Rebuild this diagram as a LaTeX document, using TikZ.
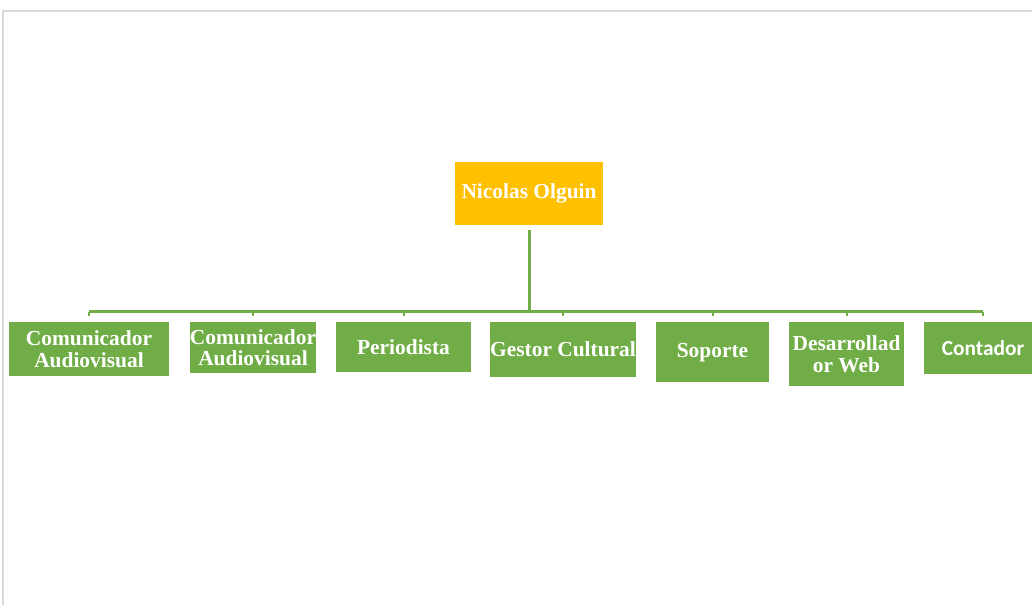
\documentclass[tikz,border=0pt]{standalone}
\usepackage{fontspec}
\setmainfont{Liberation Serif}
\newfontfamily\calibrifont{Carlito}
\usetikzlibrary{positioning}
\definecolor{boxgreen}{HTML}{70AD47}
\definecolor{boxorange}{HTML}{FFC000}
\definecolor{pageedge}{HTML}{D9D9D9}

\begin{document}
\begin{tikzpicture}[x=1pt,y=-1pt,
  role/.style={fill=boxgreen, text=white, inner sep=0pt, align=center,
    anchor=north, font=\fontsize{21.4}{22}\selectfont\bfseries},
  head/.style={role, fill=boxorange},
  link/.style={draw=boxgreen, line width=2pt}]
\clip (0,0) rectangle (1032,605);
\fill[white] (0,0) rectangle (1032,605);
\draw[pageedge, line width=1.5pt] (3,605) -- (3,11) -- (1032,11);
\node (nicolas) [head, minimum width=148pt, minimum height=63pt] at (529,162)
{Nicolas Olguin};
\node (com1) [role, minimum width=160pt, minimum height=54pt] at (89,322)
{Comunicador\\Audiovisual};
\node (com2) [role, minimum width=126pt, minimum height=51pt,
  font=\fontsize{21.4}{21}\selectfont\bfseries] at (253,322)
{Comunicador\\Audiovisual};
\node (periodista) [role, minimum width=135pt, minimum height=50pt] at (403.5,322)
{Periodista};
\node (gestor) [role, minimum width=146pt, minimum height=55pt] at (563,322)
{Gestor Cultural};
\node (soporte) [role, minimum width=113pt, minimum height=60pt] at (712.5,322)
{Soporte};
\node (desarrollador) [role, minimum width=115pt, minimum height=64pt] at (846.5,322)
{Desarrollad\\or Web};
\node (contador) [role, minimum width=118pt, minimum height=52pt,
  font=\fontsize{21.4}{22}\selectfont\calibrifont\bfseries] at (983,322)
{Contador};
\coordinate (bus) at (529,311.5);
\draw[link, line width=3pt, shorten <=5pt] (nicolas.south) -- (nicolas.south |- bus);
\draw[link, line width=2.5pt] (com1.north |- bus) -- (contador.north |- bus);
\foreach \n in {com1,com2,periodista,gestor,soporte,desarrollador,contador}
  \draw[link, shorten >=6pt] (\n.north |- bus) -- (\n.north);
\end{tikzpicture}
\end{document}
